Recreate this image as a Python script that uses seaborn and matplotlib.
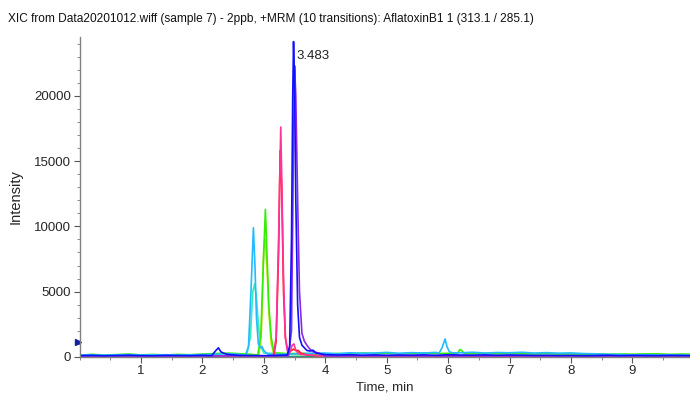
import numpy as np
import pandas as pd
import matplotlib
matplotlib.use("Agg")
import matplotlib.pyplot as plt
import seaborn as sns
from matplotlib.ticker import MultipleLocator

# chromatogram traces (time in min, intensity in cps)
grid_t = np.round(np.arange(0, 10.01, 0.2), 2)
sparse_t = [0.0, 1.0, 2.0, 2.5, 4.0, 5.0, 6.0, 7.0, 8.0, 9.0, 10.0]

blue_base = [100, 120, 90, 110, 130, 100, 90, 120, 110, 100, 130, 150, 180, 120, 110, 100, 120,
             150, 300, 250, 180, 150, 170, 140, 160, 130, 150, 140, 160, 130, 170, 150, 140, 160,
             130, 150, 140, 120, 130, 110, 120, 100, 110, 130, 100, 120, 110, 100, 120, 110, 100]
blue_pk_t = [2.15, 2.22, 2.26, 2.30, 2.34, 2.40, 3.38, 3.42, 3.45, 3.47, 3.483, 3.50, 3.52, 3.55,
             3.58, 3.62, 3.66, 3.70, 3.75, 3.80, 3.85, 3.90, 3.98]
blue_pk_y = [100, 500, 700, 400, 300, 200, 150, 800, 9000, 20000, 24150, 21000, 12000, 4000,
             1500, 900, 700, 500, 450, 520, 300, 250, 200]

cyan_base = [150, 170, 140, 160, 180, 150, 160, 170, 150, 160, 180, 200, 250, 200, 300, 250, 200,
             220, 250, 280, 300, 250, 320, 280, 300, 350, 280, 330, 300, 350, 380, 320, 360, 300,
             340, 320, 360, 300, 330, 290, 310, 260, 240, 200, 180, 160, 170, 150, 160, 140, 150]
cyan_pk_t = [2.70, 2.75, 2.79, 2.83, 2.855, 2.88, 2.91, 2.94, 2.97, 3.00, 3.04, 3.08,
             5.85, 5.90, 5.95, 5.98, 6.02, 6.07]
cyan_pk_y = [150, 800, 5000, 9900, 7000, 3000, 1000, 700, 800, 500, 300, 200,
             280, 700, 1380, 800, 400, 320]

green_base = [130, 200, 150, 180, 220, 160, 190, 150, 200, 170, 220, 260, 300, 250, 200, 300, 350,
              250, 280, 250, 230, 260, 240, 300, 260, 280, 250, 270, 300, 260, 280, 300, 260, 280,
              240, 260, 250, 230, 260, 220, 240, 210, 230, 200, 220, 210, 230, 240, 200, 220, 210]
green_pk_t = [2.90, 2.95, 2.99, 3.025, 3.05, 3.08, 3.12, 3.16, 3.20, 6.15, 6.19, 6.22, 6.26]
green_pk_y = [150, 1500, 7000, 11300, 8000, 4000, 1500, 400, 300, 260, 560, 500, 260]

violet_base = [60, 70, 60, 80, 70, 90, 70, 80, 60, 70, 60]
violet_pk_t = [3.40, 3.45, 3.48, 3.50, 3.52, 3.55, 3.58, 3.62, 3.66, 3.70, 3.75, 3.80, 3.90]
violet_pk_y = [80, 2000, 15000, 22300, 20000, 12000, 5000, 1800, 1200, 900, 600, 400, 300]

pink_base = [50, 60, 50, 70, 60, 50, 60, 50, 60, 50, 60]
pink_pk_t = [3.15, 3.20, 3.24, 3.275, 3.29, 3.32, 3.35, 3.38, 3.42, 3.46, 3.49, 3.52, 3.56, 3.60]
pink_pk_y = [60, 1500, 9000, 17600, 14000, 6000, 1500, 500, 300, 900, 1000, 500, 300, 200]

red_base = [40, 50, 40, 60, 50, 40, 50, 40, 50, 40, 50]
red_pk_t = [3.16, 3.20, 3.24, 3.265, 3.29, 3.32, 3.35, 3.38, 3.42, 3.48, 3.52, 3.56, 3.60, 3.70]
red_pk_y = [50, 1200, 8000, 15800, 13000, 5000, 1500, 700, 400, 600, 500, 500, 300, 150]

yellow_base = [70, 80, 70, 90, 80, 70, 80, 70, 80, 70, 80]
yellow_pk_t = [2.92, 2.96, 3.00, 3.02, 3.05, 3.08, 3.12, 3.16]
yellow_pk_y = [90, 2000, 8500, 9000, 7000, 3500, 1000, 300]

aqua_base = [80, 90, 80, 100, 90, 80, 90, 80, 90, 80, 90]
aqua_pk_t = [2.72, 2.78, 2.82, 2.85, 2.88, 2.91, 2.95, 3.00]
aqua_pk_y = [100, 1500, 5000, 5600, 4500, 2500, 800, 300]

teal_base = [30, 40, 30, 40, 30, 40, 30, 40, 30, 40, 30]

colors = {"teal": "#119988", "aqua": "#33eebb", "yellow": "#c8e000", "green": "#33ee00",
          "cyan": "#22bbff", "red": "#ff1a1a", "pink": "#ff3399", "violet": "#8a2be2",
          "blue": "#1010ff"}


def trace(base_t, base_y, pk_t=(), pk_y=()):
    bt = np.asarray(base_t, float)
    by = np.asarray(base_y, float)
    pt = np.asarray(pk_t, float)
    py = np.asarray(pk_y, float)
    keep = np.ones(len(bt), bool)
    # drop baseline points that fall inside a peak window
    if len(pt):
        gaps = np.where(np.diff(pt) > 0.5)[0]
        starts = np.r_[0, gaps + 1]
        ends = np.r_[gaps, len(pt) - 1]
        for s, e in zip(starts, ends):
            keep &= ~((bt >= pt[s]) & (bt <= pt[e]))
    t = np.r_[bt[keep], pt]
    y = np.r_[by[keep], py]
    o = np.argsort(t)
    return t[o], y[o]


series = {
    "teal": trace(sparse_t, teal_base),
    "aqua": trace(sparse_t, aqua_base, aqua_pk_t, aqua_pk_y),
    "yellow": trace(sparse_t, yellow_base, yellow_pk_t, yellow_pk_y),
    "green": trace(grid_t, green_base, green_pk_t, green_pk_y),
    "cyan": trace(grid_t, cyan_base, cyan_pk_t, cyan_pk_y),
    "red": trace(sparse_t, red_base, red_pk_t, red_pk_y),
    "pink": trace(sparse_t, pink_base, pink_pk_t, pink_pk_y),
    "violet": trace(sparse_t, violet_base, violet_pk_t, violet_pk_y),
    "blue": trace(grid_t, blue_base, blue_pk_t, blue_pk_y),
}

frames = []
for name, (t, y) in series.items():
    frames.append(pd.DataFrame({"t": t, "y": y, "trace": name}))
df = pd.concat(frames, ignore_index=True)

sns.set_style("white")
plt.rcParams["font.family"] = ["Liberation Sans", "DejaVu Sans"]

fig = plt.figure(figsize=(6.9, 3.94), dpi=100)
ax = fig.add_axes([0.1153, 0.094, 0.885, 0.812])

for name in series:
    sub = df[df["trace"] == name]
    sns.lineplot(data=sub, x="t", y="y", color=colors[name], lw=1.2,
                 estimator=None, sort=False, ax=ax, legend=False)

ax.set_xlim(0, 9.94)
ax.set_ylim(0, 24500)
ax.set_xticks(range(1, 10))
ax.xaxis.set_minor_locator(MultipleLocator(0.5))
ax.set_yticks([0, 5000, 10000, 15000, 20000])
ax.yaxis.set_minor_locator(MultipleLocator(1000))
ax.tick_params(axis="both", which="major", direction="out", length=4, width=0.8,
               color="#555555", labelsize=9.5, pad=2, left=True, bottom=True)
ax.tick_params(axis="both", which="minor", direction="out", length=2, width=0.6,
               color="#777777", left=True, bottom=True)
for s in ["top", "right"]:
    ax.spines[s].set_visible(False)
for s in ["left", "bottom"]:
    ax.spines[s].set_color("#808080")
    ax.spines[s].set_linewidth(1.0)

ax.set_xlabel("Time, min", fontsize=9.5, labelpad=3)
ax.set_ylabel("Intensity", fontsize=10.5)
ax.yaxis.set_label_coords(-0.094, 0.5)

# peak label and the small left-edge marker
peak_i = int(np.argmax(blue_pk_y))
ax.annotate("3.483", xy=(blue_pk_t[peak_i], blue_pk_y[peak_i]), xytext=(2, -15),
            textcoords="offset points", fontsize=9.5, color="#222222", ha="left", va="bottom")
ax.plot([-0.03], [1150], marker=">", color="#1020a0", markersize=5, clip_on=False)

fig.text(0.012, 0.953, "XIC from Data20201012.wiff (sample 7) - 2ppb, +MRM (10 transitions): "
         "AflatoxinB1 1 (313.1 / 285.1)", fontsize=8.6, color="#111111", ha="left", va="center")

fig.savefig("out.png", dpi=100)
